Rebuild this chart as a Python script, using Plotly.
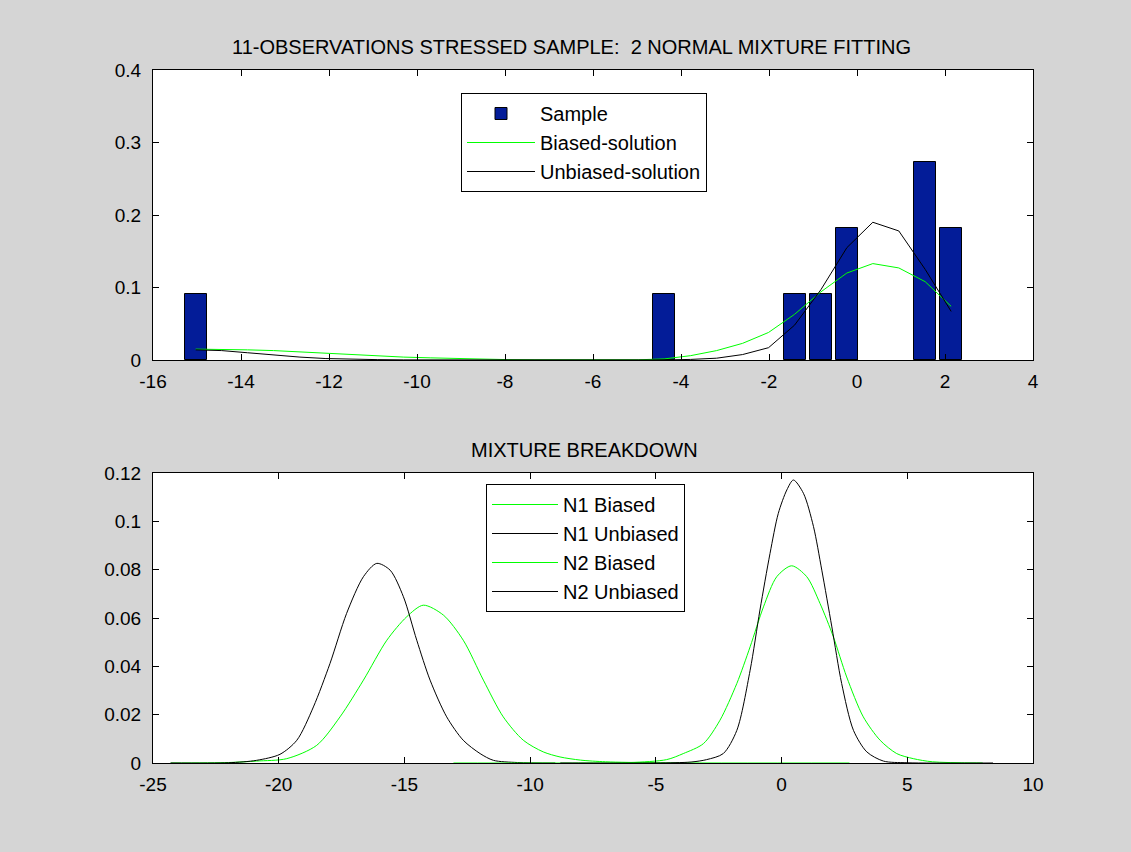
import plotly.graph_objects as go

# ---------------- data ----------------
# Top panel: histogram of the 11-observation sample (relative frequency)
SAMPLE_X = [-15.03, -4.38, -1.42, -0.82, -0.23, 1.55, 2.14]
SAMPLE_FREQ = [0.0909, 0.0909, 0.0909, 0.0909, 0.1818, 0.2727, 0.1818]

# Top panel: fitted mixture densities evaluated at the bin centres
GRID_X = [-15.03, -14.44, -13.85, -13.26, -12.66, -12.07, -11.48, -10.89, -10.30, -9.70,
          -9.11, -8.52, -7.93, -7.34, -6.74, -6.15, -5.56, -4.97, -4.38, -3.78,
          -3.19, -2.60, -2.01, -1.42, -0.82, -0.23, 0.36, 0.95, 1.55, 2.14]
BIASED_MIX = [0.015, 0.015, 0.014, 0.013, 0.011, 0.009, 0.008, 0.006, 0.004, 0.003,
              0.002, 0.001, 0.0005, 0.0003, 0.0002, 0.0001, 0.0001, 0.0003, 0.0015, 0.006,
              0.013, 0.023, 0.038, 0.063, 0.094, 0.120, 0.133, 0.127, 0.108, 0.074]
UNBIASED_MIX = [0.014, 0.013, 0.010, 0.007, 0.004, 0.002, 0.001, 0.0005, 0.0002, 0.0001,
                0.0, 0.0, 0.0, 0.0, 0.0, 0.0, 0.0, 0.0, 0.0001, 0.0008,
                0.0025, 0.0075, 0.017, 0.048, 0.097, 0.155, 0.190, 0.178, 0.125, 0.067]

# Bottom panel: weighted mixture components
N1B_X = [-24.3, -22.0, -20.88, -19.68, -18.49, -17.56, -16.63, -15.70, -14.91, -14.25,
         -13.45, -12.66, -11.86, -11.07, -10.27, -9.48, -8.81, -8.0, -7.0, -5.0, 2.7]
N1B_Y = [0.0, 0.0002, 0.0008, 0.0018, 0.0073, 0.0191, 0.0343, 0.0508, 0.0605, 0.0653,
         0.0612, 0.0508, 0.0343, 0.0191, 0.0094, 0.0046, 0.0025, 0.0012, 0.0005, 0.0001, 0.0]
N1U_X = [-24.3, -22.0, -20.88, -19.95, -19.28, -18.62, -17.96, -17.30, -16.63, -16.10,
         -15.57, -15.04, -14.51, -13.98, -13.32, -12.66, -11.99, -11.46, -10.5, -9.0]
N1U_Y = [0.0, 0.0001, 0.0011, 0.0036, 0.0094, 0.0232, 0.0412, 0.0619, 0.0771, 0.0826,
         0.0798, 0.0688, 0.0508, 0.0343, 0.0191, 0.0094, 0.0039, 0.0011, 0.0002, 0.0]
N2B_X = [-13.05, -8.0, -6.0, -4.57, -3.91, -3.11, -2.45, -1.78, -1.25, -0.72, -0.19,
         0.40, 1.00, 1.53, 2.06, 2.59, 3.25, 3.92, 4.58, 5.24, 6.0, 8.0]
N2B_Y = [0.0, 0.0, 0.0002, 0.0014, 0.0039, 0.0080, 0.0177, 0.0329, 0.0481, 0.0646, 0.0771,
         0.0816, 0.0771, 0.0660, 0.0522, 0.0356, 0.0191, 0.0094, 0.0039, 0.0018, 0.0005, 0.0]
N2U_X = [-8.8, -5.0, -3.6, -2.98, -2.32, -1.78, -1.25, -0.86, -0.46, -0.13, 0.21,
         0.47, 0.87, 1.27, 1.60, 2.00, 2.39, 2.86, 3.39, 4.05, 5.0, 8.41]
N2U_Y = [0.0, 0.0, 0.0004, 0.0014, 0.0039, 0.0135, 0.0384, 0.0633, 0.0867, 0.1033, 0.1130,
         0.1171, 0.1116, 0.0978, 0.0798, 0.0563, 0.0329, 0.0135, 0.0046, 0.0008, 0.0001, 0.0]

# Tick labels
TOP_XTICKS = [-16, -14, -12, -10, -8, -6, -4, -2, 0, 2, 4]
TOP_XTEXT = ["-16", "-14", "-12", "-10", "-8", "-6", "-4", "-2", "0", "2", "4"]
TOP_YTICKS = [0, 0.1, 0.2, 0.3, 0.4]
TOP_YTEXT = ["0", "0.1", "0.2", "0.3", "0.4"]
BOT_XTICKS = [-25, -20, -15, -10, -5, 0, 5, 10]
BOT_XTEXT = ["-25", "-20", "-15", "-10", "-5", "0", "5", "10"]
BOT_YTICKS = [0, 0.02, 0.04, 0.06, 0.08, 0.1, 0.12]
BOT_YTEXT = ["0", "0.02", "0.04", "0.06", "0.08", "0.1", "0.12"]

TITLE_TOP = "11-OBSERVATIONS STRESSED SAMPLE:  2 NORMAL MIXTURE FITTING"
TITLE_BOT = "MIXTURE BREAKDOWN"

# ---------------- styling ----------------
FONT = "Liberation Sans, Arial, Helvetica, sans-serif"
FS = 19
FS_TXT = 20
GREEN = "#00ff00"
BLACK = "#000000"
BAR = "#031c98"
BG = "#d5d5d5"

fig = go.Figure()

fig.add_trace(go.Bar(x=SAMPLE_X, y=SAMPLE_FREQ, width=0.5, name="Sample",
                     marker=dict(color=BAR, line=dict(color=BLACK, width=1)),
                     xaxis="x", yaxis="y", legend="legend"))
fig.add_trace(go.Scatter(x=GRID_X, y=BIASED_MIX, mode="lines", name="Biased-solution",
                         line=dict(color=GREEN, width=1), xaxis="x", yaxis="y", legend="legend"))
fig.add_trace(go.Scatter(x=GRID_X, y=UNBIASED_MIX, mode="lines", name="Unbiased-solution",
                         line=dict(color=BLACK, width=1), xaxis="x", yaxis="y", legend="legend"))

for xs, ys, nm, col in [(N1B_X, N1B_Y, "N1 Biased", GREEN),
                        (N1U_X, N1U_Y, "N1 Unbiased", BLACK),
                        (N2B_X, N2B_Y, "N2 Biased", GREEN),
                        (N2U_X, N2U_Y, "N2 Unbiased", BLACK)]:
    fig.add_trace(go.Scatter(x=xs, y=ys, mode="lines", name=nm,
                             line=dict(color=col, width=1, shape="spline", smoothing=0.8),
                             xaxis="x2", yaxis="y2", legend="legend2"))

L, R, T, B = 153, 98, 70, 89
W, H = 1131, 852
ph = H - T - B
top_lo = (763 - 360) / ph
bot_hi = (763 - 473) / ph

axis_common = dict(ticks="inside", ticklen=6, tickwidth=1, tickcolor=BLACK,
                   showline=True, linecolor=BLACK, linewidth=1, mirror="allticks",
                   showgrid=False, zeroline=False,
                   tickfont=dict(family=FONT, size=FS, color=BLACK))

fig.update_layout(
    width=W, height=H,
    margin=dict(l=L, r=R, t=T, b=B, pad=0),
    paper_bgcolor=BG, plot_bgcolor="white",
    font=dict(family=FONT, size=FS, color=BLACK),
    bargap=0,
    xaxis=dict(domain=[0, 1], anchor="y", range=[-16, 4], ticklabelstandoff=4,
               tickvals=TOP_XTICKS, ticktext=TOP_XTEXT, **axis_common),
    yaxis=dict(domain=[top_lo, 1], anchor="x", range=[0, 0.4], ticklabelstandoff=7,
               tickvals=TOP_YTICKS, ticktext=TOP_YTEXT, **axis_common),
    xaxis2=dict(domain=[0, 1], anchor="y2", range=[-25, 10], ticklabelstandoff=4,
                tickvals=BOT_XTICKS, ticktext=BOT_XTEXT, **axis_common),
    yaxis2=dict(domain=[0, bot_hi], anchor="x2", range=[0, 0.12], ticklabelstandoff=7,
                tickvals=BOT_YTICKS, ticktext=BOT_YTEXT, **axis_common),
    legend=dict(x=(461 - L) / 880, y=(763 - 93) / ph, xanchor="left", yanchor="top",
                bgcolor="white", bordercolor=BLACK, borderwidth=1,
                font=dict(family=FONT, size=FS_TXT, color=BLACK), itemwidth=68,
                tracegroupgap=0),
    legend2=dict(x=(486 - L) / 880, y=(763 - 484) / ph, xanchor="left", yanchor="top",
                 bgcolor="white", bordercolor=BLACK, borderwidth=1,
                 font=dict(family=FONT, size=FS_TXT, color=BLACK), itemwidth=66,
                 tracegroupgap=0),
    showlegend=True,
    annotations=[
        dict(text=TITLE_TOP, xref="paper", yref="paper", x=(571 - L) / 880, y=1,
             xanchor="center", yanchor="middle", yshift=23, showarrow=False,
             font=dict(family=FONT, size=FS_TXT, color=BLACK)),
        dict(text=TITLE_BOT, xref="paper", yref="paper", x=(584 - L) / 880, y=bot_hi,
             xanchor="center", yanchor="middle", yshift=23, showarrow=False,
             font=dict(family=FONT, size=FS_TXT, color=BLACK)),
    ],
)

fig.write_html("out.html", config={"displayModeBar": False},
               post_script="document.body.style.margin='0';")
